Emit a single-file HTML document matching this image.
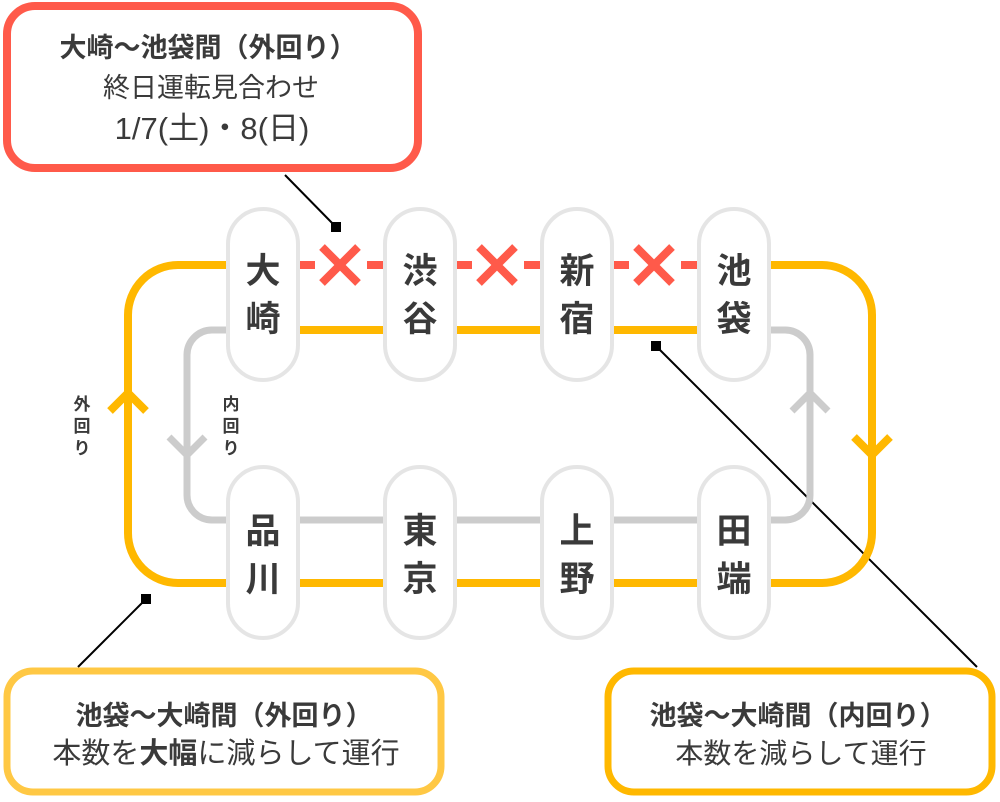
<!DOCTYPE html>
<html><head><meta charset="utf-8"><style>
body{margin:0;background:#fff;}
svg text{font-family:"Liberation Sans","Noto Sans CJK JP",sans-serif;fill:#3a3a3a;}
</style></head><body>
<svg width="1000" height="797" viewBox="0 0 1000 797" xmlns="http://www.w3.org/2000/svg">
<line x1="285" y1="175" x2="336" y2="227" stroke="#000" stroke-width="2"/>
<rect x="331" y="222" width="10" height="10" fill="#000"/>
<line x1="656" y1="346" x2="977" y2="667" stroke="#000" stroke-width="2"/>
<rect x="651" y="341" width="10" height="10" fill="#000"/>
<line x1="146" y1="599" x2="78" y2="667" stroke="#000" stroke-width="2"/>
<rect x="141" y="594" width="10" height="10" fill="#000"/>
<path d="M240,330 H212 A25,25 0 0 0 187,355 V495 A25,25 0 0 0 212,520 H785 A25,25 0 0 0 810,495 V355 A25,25 0 0 0 785,330 H760" fill="none" stroke="#cccccc" stroke-width="7"/>
<polyline points="169,437 187,455 205,437" fill="none" stroke="#cccccc" stroke-width="7"/>
<polyline points="792,411 810,393 828,411" fill="none" stroke="#cccccc" stroke-width="7"/>
<path d="M240,265 H178 A50,50 0 0 0 128,315 V533 A50,50 0 0 0 178,583 H822 A50,50 0 0 0 872,533 V315 A50,50 0 0 0 822,265 H760" fill="none" stroke="#ffb800" stroke-width="8"/>
<line x1="290" y1="330" x2="760" y2="330" stroke="#ffb800" stroke-width="8"/>
<polyline points="110,411 128,393 146,411" fill="none" stroke="#ffb800" stroke-width="8"/>
<polyline points="854,437 872,455 890,437" fill="none" stroke="#ffb800" stroke-width="8"/>
<g stroke="#ff5a4a" stroke-width="8">
<line x1="300" y1="265" x2="315" y2="265"/><line x1="367" y1="265" x2="383" y2="265"/>
<line x1="457" y1="265" x2="472" y2="265"/><line x1="524" y1="265" x2="540" y2="265"/>
<line x1="614" y1="265" x2="629" y2="265"/><line x1="681" y1="265" x2="697" y2="265"/>
<path d="M322,247 L358,283 M358,247 L322,283"/>
<path d="M479,247 L515,283 M515,247 L479,283"/>
<path d="M636,247 L672,283 M672,247 L636,283"/>
</g>
<g fill="#fff" stroke="#e5e5e5" stroke-width="4">
<rect x="228" y="209" width="70" height="171" rx="35"/>
<rect x="385" y="209" width="70" height="171" rx="35"/>
<rect x="542" y="209" width="70" height="171" rx="35"/>
<rect x="699" y="209" width="70" height="171" rx="35"/>
<rect x="228" y="467" width="70" height="171" rx="35"/>
<rect x="385" y="467" width="70" height="171" rx="35"/>
<rect x="542" y="467" width="70" height="171" rx="35"/>
<rect x="699" y="467" width="70" height="171" rx="35"/>
</g>
<g font-size="35" font-weight="bold" text-anchor="middle">
<text x="263" y="283">大</text><text x="263" y="331">崎</text>
<text x="420" y="283">渋</text><text x="420" y="331">谷</text>
<text x="577" y="283">新</text><text x="577" y="331">宿</text>
<text x="734" y="283">池</text><text x="734" y="331">袋</text>
<text x="263" y="543">品</text><text x="263" y="591">川</text>
<text x="420" y="543">東</text><text x="420" y="591">京</text>
<text x="577" y="543">上</text><text x="577" y="591">野</text>
<text x="734" y="543">田</text><text x="734" y="591">端</text>
</g>
<g font-size="17" font-weight="bold" text-anchor="middle" style="fill:#111">
<text x="82" y="410">外</text><text x="82" y="432">回</text><text x="82" y="454">り</text>
<text x="231" y="410">内</text><text x="231" y="432">回</text><text x="231" y="454">り</text>
</g>
<rect x="7" y="6" width="411" height="162" rx="28" fill="#fff" stroke="#ff5a4a" stroke-width="8"/>
<rect x="7" y="671" width="434" height="121" rx="26" fill="#fff" stroke="#ffc844" stroke-width="7"/>
<rect x="608" y="671" width="384" height="121" rx="26" fill="#fff" stroke="#ffb800" stroke-width="7"/>
<g font-size="27" text-anchor="middle">
<text x="208" y="57" font-weight="bold">大崎～池袋間（外回り）</text>
<text x="211" y="97">終日運転見合わせ</text>
<text x="212" y="139" font-size="31">1/7(土)・8(日)</text>
<text x="224" y="725" font-weight="bold">池袋～大崎間（外回り）</text>
<text x="226" y="763" font-size="29">本数を<tspan font-weight="bold">大幅</tspan>に減らして運行</text>
<text x="798" y="725" font-weight="bold">池袋～大崎間（内回り）</text>
<text x="801" y="763" font-size="28">本数を減らして運行</text>
</g>
</svg>
</body></html>
